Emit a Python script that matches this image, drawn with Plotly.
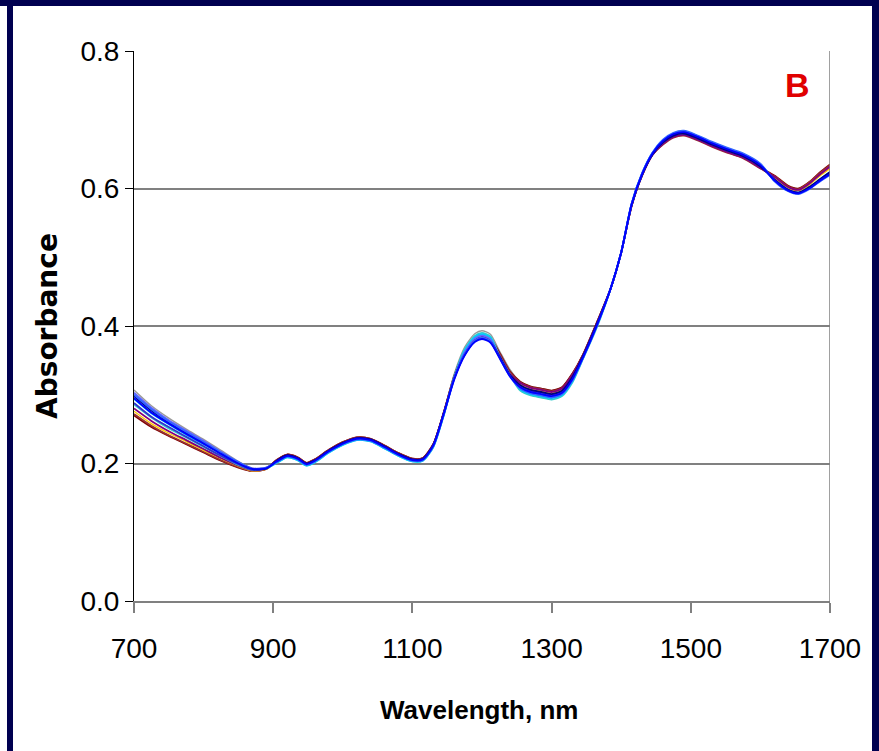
import plotly.graph_objects as go

# Wavelength grid (nm) shared by all spectra
WAVELENGTH = [700, 725, 750, 775, 800, 825, 850, 870, 890, 905, 920, 935, 948, 960, 980,
              1000, 1020, 1040, 1060, 1080, 1100, 1115, 1130, 1145, 1160, 1175, 1190, 1200,
              1212, 1225, 1240, 1255, 1270, 1285, 1300, 1315, 1330, 1345, 1365, 1385, 1400,
              1415, 1430, 1445, 1460, 1475, 1490, 1510, 1530, 1550, 1575, 1600, 1620, 1640,
              1655, 1670, 1685, 1700]

# Absorbance spectra of the individual samples
SPEC_GRAY = [.307, .284, .266, .250, .235, .219, .203, .193, .194, .205, .213, .209, .201, .206, .220,
             .231, .238, .236, .226, .215, .207, .208, .228, .274, .330, .369, .389, .393,
             .388, .364, .337, .319, .312, .309, .306, .311, .331, .358, .405, .455, .507,
             .577, .621, .651, .668, .678, .681, .674, .665, .657, .648, .633, .616, .601,
             .597, .606, .619, .630]
SPEC_MAROON = [.270, .253, .240, .228, .216, .204, .194, .189, .192, .205, .213, .209, .201, .206, .220,
               .231, .238, .236, .226, .215, .207, .208, .228, .274, .327, .363, .383, .387,
               .382, .361, .334, .319, .312, .309, .306, .311, .331, .358, .405, .455, .507,
               .575, .619, .649, .665, .675, .678, .671, .662, .654, .645, .630, .619, .604,
               .600, .609, .623, .635]
SPEC_BROWN = [.272, .255, .241, .229, .217, .205, .195, .189, .192, .205, .213, .209, .201, .206, .220,
              .231, .238, .236, .226, .215, .207, .208, .228, .274, .326, .362, .382, .386,
              .381, .360, .333, .318, .311, .308, .305, .310, .330, .358, .405, .455, .507,
              .575, .619, .649, .664, .674, .677, .670, .661, .653, .644, .629, .618, .603,
              .599, .609, .622, .634]
SPEC_YELLOW = [.276, .258, .244, .232, .219, .207, .196, .189, .192, .203, .211, .207, .199, .204, .218,
               .229, .236, .234, .224, .213, .205, .206, .226, .272, .325, .362, .382, .386,
               .381, .358, .331, .315, .308, .305, .302, .307, .327, .356, .403, .455, .507,
               .576, .620, .650, .666, .676, .679, .672, .663, .655, .646, .631, .616, .601,
               .597, .605, .618, .629]
SPEC_PURPLE = [.280, .262, .247, .234, .221, .208, .197, .190, .193, .204, .212, .208, .200, .205, .219,
               .230, .237, .235, .225, .214, .206, .207, .227, .273, .324, .360, .380, .384,
               .379, .358, .331, .317, .310, .307, .304, .309, .329, .357, .404, .455, .507,
               .575, .619, .649, .665, .675, .678, .671, .662, .654, .645, .630, .617, .602,
               .598, .607, .620, .632]
SPEC_TEAL = [.286, .267, .251, .238, .224, .211, .198, .191, .193, .201, .209, .205, .197, .202, .216,
             .227, .234, .232, .222, .211, .203, .204, .224, .270, .326, .366, .386, .390,
             .385, .356, .329, .306, .299, .296, .293, .298, .318, .352, .398, .455, .507,
             .577, .621, .651, .669, .679, .682, .675, .666, .658, .649, .634, .613, .598,
             .594, .602, .613, .624]
SPEC_SKY = [.294, .273, .257, .242, .228, .214, .200, .192, .193, .201, .209, .205, .197, .202, .216,
            .227, .234, .232, .222, .211, .203, .204, .224, .270, .325, .364, .384, .388,
            .383, .356, .329, .308, .301, .298, .295, .300, .320, .353, .400, .455, .507,
            .578, .622, .652, .670, .680, .683, .676, .667, .659, .650, .635, .612, .597,
            .593, .600, .611, .622]
SPEC_LAVENDER = [.303, .281, .263, .248, .233, .217, .202, .193, .194, .203, .211, .207, .199, .204, .218,
                 .229, .236, .234, .224, .213, .205, .206, .226, .272, .325, .362, .382, .386,
                 .381, .356, .329, .310, .303, .300, .297, .302, .322, .354, .401, .455, .507,
                 .578, .622, .652, .670, .680, .683, .676, .667, .659, .650, .635, .612, .597,
                 .593, .600, .611, .622]
SPEC_VIOLET = [.288, .268, .253, .239, .225, .211, .199, .191, .193, .203, .211, .207, .199, .204, .218,
               .229, .236, .234, .224, .213, .205, .206, .226, .272, .324, .359, .379, .383,
               .378, .356, .329, .313, .306, .303, .300, .305, .325, .355, .402, .455, .507,
               .576, .620, .650, .667, .677, .680, .673, .664, .656, .647, .632, .613, .598,
               .594, .601, .612, .623]
SPEC_NAVY = [.298, .277, .260, .245, .230, .215, .201, .192, .193, .204, .212, .208, .200, .205, .219,
             .230, .237, .235, .225, .214, .206, .207, .227, .273, .324, .358, .378, .382,
             .377, .356, .329, .314, .307, .304, .301, .306, .326, .356, .403, .455, .507,
             .576, .620, .650, .667, .677, .680, .673, .664, .656, .647, .632, .613, .598,
             .594, .602, .613, .624]
SPEC_ROYAL = [.300, .279, .261, .246, .231, .216, .202, .192, .194, .202, .210, .206, .198, .203, .217,
              .228, .235, .233, .223, .212, .204, .205, .225, .271, .323, .359, .379, .383,
              .378, .354, .327, .309, .302, .299, .296, .301, .321, .353, .400, .455, .507,
              .578, .622, .652, .671, .681, .684, .677, .668, .660, .651, .636, .611, .596,
              .592, .599, .610, .620]
SPEC_BLUE = [.295, .274, .258, .243, .229, .214, .200, .192, .193, .203, .211, .207, .199, .204, .218,
             .229, .236, .234, .224, .213, .205, .206, .226, .272, .322, .357, .377, .381,
             .376, .354, .327, .311, .304, .301, .298, .303, .323, .354, .401, .455, .507,
             .577, .621, .651, .669, .679, .682, .675, .666, .658, .649, .634, .612, .597,
             .593, .600, .611, .621]

# (values, colour, width) in drawing order: paler lines below, blues on top
SERIES = [
    (SPEC_GRAY, "#9a9a9a", 1.4),
    (SPEC_MAROON, "#800000", 1.8),
    (SPEC_BROWN, "#993333", 1.8),
    (SPEC_YELLOW, "#ffcc00", 1.4),
    (SPEC_PURPLE, "#800080", 1.8),
    (SPEC_TEAL, "#33cccc", 1.8),
    (SPEC_SKY, "#00ccff", 1.8),
    (SPEC_LAVENDER, "#6666ff", 1.8),
    (SPEC_VIOLET, "#3333cc", 1.8),
    (SPEC_NAVY, "#000080", 1.8),
    (SPEC_ROYAL, "#3366ff", 1.9),
    (SPEC_BLUE, "#0000ff", 1.9),
]

X_TICKS = [700, 900, 1100, 1300, 1500, 1700]
Y_TICKS = [0.0, 0.2, 0.4, 0.6, 0.8]

SANS = "Liberation Sans, Arial, sans-serif"
NAVY = "#000050"

fig = go.Figure()
for values, color, width in SERIES:
    fig.add_trace(go.Scatter(
        x=WAVELENGTH, y=values, mode="lines",
        line=dict(color=color, width=width, shape="spline", smoothing=0.7),
        showlegend=False, hoverinfo="skip",
    ))

W, H = 879, 751
L, R, T, B = 134, 49, 51, 150
pw, ph = W - L - R, H - T - B


def px(x):
    return (x - L) / pw


def py(y):
    return (H - B - y) / ph


fig.update_layout(
    width=W, height=H,
    margin=dict(l=L, r=R, t=T, b=B),
    paper_bgcolor="white", plot_bgcolor="white",
    xaxis=dict(
        range=[700, 1700], tickvals=X_TICKS, ticks="outside", ticklen=10,
        tickcolor="#808080", tickwidth=1.5, showline=True, linecolor="#808080",
        linewidth=1.5, showgrid=False, zeroline=False, ticklabelstandoff=12,
        tickfont=dict(family=SANS, size=28, color="black"),
    ),
    yaxis=dict(
        range=[0, 0.8], tickvals=Y_TICKS, tickformat=".1f", ticks="outside",
        ticklen=8, tickcolor="black", tickwidth=1, showline=True, linecolor="black",
        linewidth=1, showgrid=True, gridcolor="#808080", gridwidth=1.5, zeroline=False,
        tickfont=dict(family=SANS, size=28, color="black"),
    ),
    shapes=[
        # right-hand frame line of the plot area
        dict(type="line", xref="x", yref="paper", x0=1700, x1=1700, y0=py(611), y1=1,
             line=dict(color="#808080", width=1.5)),
        # dark frame around the figure
        dict(type="rect", xref="paper", yref="paper", x0=px(-2), x1=px(W + 2),
             y0=py(6), y1=py(-2), fillcolor=NAVY, line=dict(width=0), layer="above"),
        dict(type="rect", xref="paper", yref="paper", x0=px(7), x1=px(13),
             y0=py(H + 2), y1=py(0), fillcolor=NAVY, line=dict(width=0), layer="above"),
        dict(type="rect", xref="paper", yref="paper", x0=px(872), x1=px(W + 2),
             y0=py(H + 2), y1=py(0), fillcolor=NAVY, line=dict(width=0), layer="above"),
    ],
    annotations=[
        dict(text="<b>Absorbance</b>", xref="paper", yref="paper", x=px(47), y=py(326),
             xanchor="center", yanchor="middle", textangle=-90, showarrow=False,
             font=dict(family="DejaVu Sans, Arial, sans-serif", size=28, color="black")),
        dict(text="<b>Wavelength, nm</b>", xref="paper", yref="paper", x=px(479), y=py(710),
             xanchor="center", yanchor="middle", showarrow=False,
             font=dict(family=SANS, size=26, color="black")),
        dict(text="<b>B</b>", xref="paper", yref="paper", x=px(797), y=py(85),
             xanchor="center", yanchor="middle", showarrow=False,
             font=dict(family=SANS, size=34, color="#e00000")),
    ],
)

fig.write_html("out.html")
